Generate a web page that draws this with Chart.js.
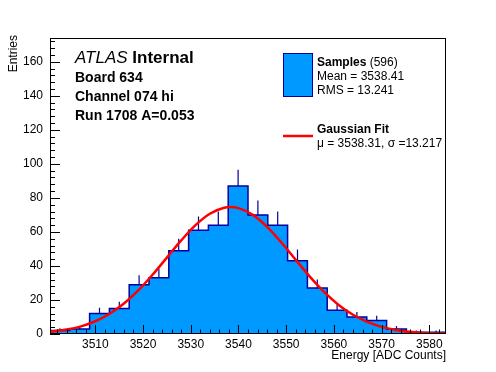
<!DOCTYPE html>
<html>
<head>
<meta charset="utf-8">
<script src="https://cdn.jsdelivr.net/npm/chart.js@4/dist/chart.umd.min.js"></script>
<style>
  html, body { margin: 0; padding: 0; background: #fff; }
  #wrap { width: 496px; height: 372px; }
</style>
</head>
<body>
<div id="wrap"><canvas id="histChart" width="496" height="372"></canvas></div>
<script>
// Гістограма: 20 бінів
var binLow = 3500.5;
var binWidth = 4.15;
var counts = [2, 3, 12, 15, 29, 33, 49, 61, 64, 87, 70, 64, 43, 27, 14, 10, 8, 3, 1, 1];
var errTop = [3.4, 4.7, 15.5, 19, 34.5, 38.5, 56, 69, 72, 96.5, 78.5, 72, 49.6, 32, 17.5, 13, 10.8, 4.7, 2, 2];

// Крива фіту
var fitX = [3500.5, 3504, 3507, 3510, 3513, 3516, 3519, 3522, 3525, 3528, 3531, 3534, 3537, 3538.3, 3540, 3543, 3546, 3549, 3552, 3555, 3558, 3561, 3564, 3567, 3570, 3573, 3576, 3579, 3583.5];
var fitY = [1.3, 2.6, 4.5, 7.5, 11.9, 17.9, 25.6, 34.8, 44.9, 55.0, 64.0, 70.7, 74.2, 74.6, 74.0, 70.0, 63.0, 53.8, 43.6, 33.6, 24.6, 17.1, 11.3, 7.1, 4.2, 2.4, 1.3, 0.6, 0.25];

// Підписи осей
var xTicks = [3510, 3520, 3530, 3540, 3550, 3560, 3570, 3580];
var yTicks = [0, 20, 40, 60, 80, 100, 120, 140, 160];
var xMin = 3500.5, xMax = 3583.5, yMax = 174;

var histPts = [];
histPts.push({x: binLow, y: counts[0]});
for (var i = 0; i < counts.length; i++) {
  histPts.push({x: binLow + (i + 1) * binWidth, y: counts[i]});
}

var errPts = [];
for (var j = 0; j < counts.length; j++) {
  var c = binLow + (j + 0.5) * binWidth;
  errPts.push({x: c, y: counts[j]});
  errPts.push({x: c, y: errTop[j]});
  errPts.push({x: c, y: null});
}

var fitPts = fitX.map(function(x, k) { return {x: x, y: fitY[k]}; });

var FONT = '"Liberation Sans", Arial, Helvetica, sans-serif';
Chart.defaults.font.family = FONT;
Chart.defaults.color = '#000';

// Рамка, тики всередину та підписи у стилі ROOT
var rootFrame = {
  id: 'rootFrame',
  afterDraw: function(chart) {
    var ctx = chart.ctx, a = chart.chartArea;
    var xs = chart.scales.x, ys = chart.scales.y;
    ctx.save();
    ctx.strokeStyle = '#000';
    ctx.lineWidth = 1;
    ctx.strokeRect(a.left + 0.5, a.top + 0.5, a.right - a.left - 1, a.bottom - a.top - 1);

    ctx.beginPath();
    for (var v = 3502; v <= 3582; v += 2) {
      var px = Math.round(xs.getPixelForValue(v)) + 0.5;
      var len = (v % 10 === 0) ? 9 : 4.5;
      ctx.moveTo(px, a.bottom);
      ctx.lineTo(px, a.bottom - len);
    }
    for (var w = 0; w <= 172; w += 4) {
      var py = Math.round(ys.getPixelForValue(w)) + 0.5;
      var l2 = (w % 20 === 0) ? 10 : 5;
      ctx.moveTo(a.left, py);
      ctx.lineTo(a.left + l2, py);
    }
    ctx.stroke();

    // підписи осей
    ctx.fillStyle = '#000';
    ctx.font = '12px ' + FONT;
    ctx.textAlign = 'right';
    ctx.textBaseline = 'alphabetic';
    ctx.fillText('Energy [ADC Counts]', a.right, 359);
    ctx.save();
    ctx.translate(17, a.top - 3);
    ctx.rotate(-Math.PI / 2);
    ctx.fillText('Entries', 0, 0);
    ctx.restore();

    // ATLAS
    ctx.textAlign = 'left';
    ctx.font = 'italic 17px ' + FONT;
    ctx.fillText('ATLAS', 75, 63);
    var wAt = ctx.measureText('ATLAS ').width;
    ctx.font = 'bold 17px ' + FONT;
    ctx.fillText('Internal', 75 + wAt, 63);
    ctx.font = 'bold 14px ' + FONT;
    ctx.fillText('Board 634', 75, 82);
    ctx.fillText('Channel 074 hi', 75, 101);
    ctx.fillText('Run 1708 A=0.053', 75, 120);

    // легенда
    ctx.fillStyle = '#0099ff';
    ctx.fillRect(283, 53, 30, 44);
    ctx.strokeStyle = '#0000a0';
    ctx.strokeRect(283.5, 53.5, 29, 43);
    ctx.fillStyle = '#000';
    ctx.font = 'bold 12px ' + FONT;
    ctx.fillText('Samples', 317, 66);
    var wS = ctx.measureText('Samples').width;
    ctx.font = '12px ' + FONT;
    ctx.fillText(' (596)', 317 + wS, 66);
    ctx.fillText('Mean = 3538.41', 317, 80);
    ctx.fillText('RMS = 13.241', 317, 94);

    ctx.strokeStyle = '#ff0000';
    ctx.lineWidth = 2.5;
    ctx.beginPath();
    ctx.moveTo(283, 136);
    ctx.lineTo(313, 136);
    ctx.stroke();
    ctx.font = 'bold 12px ' + FONT;
    ctx.fillText('Gaussian Fit', 317, 133);
    ctx.font = '12px ' + FONT;
    ctx.fillText('\u03bc = 3538.31, \u03c3 =13.217', 317, 147);
    ctx.restore();
  }
};

var ctx = document.getElementById('histChart').getContext('2d');
var myChart = new Chart(ctx, {
  type: 'line',
  data: {
    datasets: [
      {
        label: 'Gaussian Fit',
        data: fitPts,
        borderColor: '#ff0000',
        borderWidth: 2.5,
        pointRadius: 0,
        fill: false,
        cubicInterpolationMode: 'monotone',
        order: 1
      },
      {
        label: 'errors',
        data: errPts,
        borderColor: '#0000a0',
        borderWidth: 1.2,
        pointRadius: 0,
        fill: false,
        spanGaps: false,
        order: 2
      },
      {
        label: 'Samples',
        data: histPts,
        stepped: 'after',
        borderColor: '#0000a0',
        borderWidth: 1.5,
        backgroundColor: '#0099ff',
        pointRadius: 0,
        fill: 'origin',
        order: 3
      }
    ]
  },
  options: {
    responsive: false,
    devicePixelRatio: 1,
    animation: false,
    layout: { padding: { top: 38, right: 50, left: 0, bottom: 0 } },
    plugins: { legend: { display: false }, tooltip: { enabled: false } },
    scales: {
      x: {
        type: 'linear',
        min: xMin,
        max: xMax,
        grid: { display: false, drawTicks: false },
        border: { display: false },
        ticks: {
          font: { size: 12 }, padding: 3, maxRotation: 0, color: '#000',
          callback: function(v) { return String(v); }
        },
        afterBuildTicks: function(scale) {
          scale.ticks = xTicks.map(function(v) { return {value: v}; });
        },
        afterFit: function(scale) { scale.height = 38; }
      },
      y: {
        min: 0,
        max: yMax,
        grid: { display: false, drawTicks: false },
        border: { display: false },
        ticks: { font: { size: 12 }, padding: 7, color: '#000' },
        afterBuildTicks: function(scale) {
          scale.ticks = yTicks.map(function(v) { return {value: v}; });
        },
        afterFit: function(scale) { scale.width = 50; }
      }
    }
  },
  plugins: [rootFrame]
});
</script>
</body>
</html>
